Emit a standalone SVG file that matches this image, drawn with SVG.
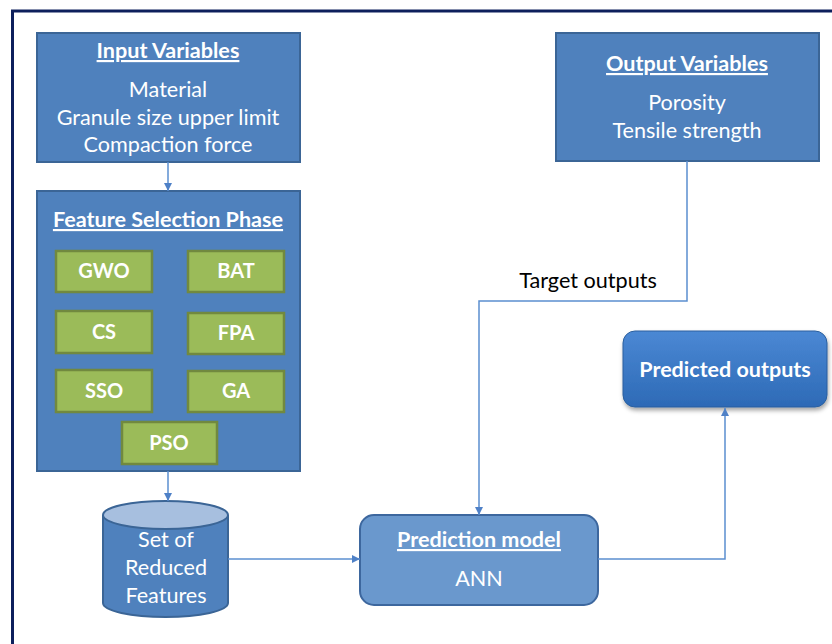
<svg xmlns="http://www.w3.org/2000/svg" width="832" height="644" viewBox="0 0 832 644">
<defs>
<marker id="arr" viewBox="0 0 10 10" refX="10" refY="5" markerWidth="8" markerHeight="8" markerUnits="userSpaceOnUse" orient="auto">
<path d="M0,0 L10,5 L0,10 z" fill="#4f81c7"/>
</marker>
<linearGradient id="pg" x1="0" y1="0" x2="0" y2="1">
<stop offset="0" stop-color="#4b88d4"/>
<stop offset="1" stop-color="#2d6ab6"/>
</linearGradient>
<filter id="sh" x="-10%" y="-10%" width="130%" height="140%">
<feDropShadow dx="1" dy="3" stdDeviation="2" flood-color="#000" flood-opacity="0.35"/>
</filter>
</defs>
<style>
.blue{fill:#4f81bd;stroke:#3b6596;stroke-width:2}
.green{fill:#9bbb59;stroke:#71893f;stroke-width:2.5}
.t{font-family:Lato,"Liberation Sans",sans-serif;fill:#fff;text-anchor:middle}
.h{font-weight:bold;font-size:21.6px;text-decoration:underline}
.b{font-size:21.6px}
.g{font-weight:bold;font-size:20px}
.p{font-weight:bold;font-size:21.5px}
.c{fill:none;stroke:#5b8fd0;stroke-width:1.5}
</style>
<rect width="832" height="644" fill="#fff"/>
<path d="M12.5,644 V11 H832" fill="none" stroke="#0d1f5c" stroke-width="3"/>
<g id="input">
<rect class="blue" x="37" y="33" width="263" height="129"/>
<text class="t h" x="168" y="58">Input Variables</text>
<text class="t b" x="168" y="97">Material</text>
<text class="t b" x="168" y="125">Granule size upper limit</text>
<text class="t b" x="168" y="152">Compaction force</text>
</g>
<g id="feature">
<rect class="blue" x="37" y="191" width="263" height="280"/>
<text class="t h" x="168" y="227">Feature Selection Phase</text>
<g id="gwo"><rect class="green" x="56" y="251" width="96" height="41"/><text class="t g" x="104" y="278">GWO</text></g>
<g id="bat"><rect class="green" x="188" y="251" width="96" height="41"/><text class="t g" x="236" y="278">BAT</text></g>
<g id="cs"><rect class="green" x="56" y="311" width="96" height="42"/><text class="t g" x="104" y="339">CS</text></g>
<g id="fpa"><rect class="green" x="188" y="313" width="96" height="41"/><text class="t g" x="236" y="340">FPA</text></g>
<g id="sso"><rect class="green" x="56" y="370" width="96" height="42"/><text class="t g" x="104" y="398">SSO</text></g>
<g id="ga"><rect class="green" x="188" y="371" width="96" height="41"/><text class="t g" x="236" y="398">GA</text></g>
<g id="pso"><rect class="green" x="122" y="422" width="95" height="42"/><text class="t g" x="169" y="450">PSO</text></g>
</g>
<g id="reduced">
<path d="M103,515 V603 A62.5,14 0 0 0 228,603 V515" fill="#4f81bd" stroke="#3b6596" stroke-width="2"/>
<ellipse cx="165.5" cy="515" rx="62.5" ry="14" fill="#a7bfdf" stroke="#3b6596" stroke-width="2"/>
<text class="t b" x="166" y="547">Set of</text>
<text class="t b" x="166" y="575">Reduced</text>
<text class="t b" x="166" y="603">Features</text>
</g>
<g id="prediction">
<rect x="360" y="515" width="238" height="90" rx="14" fill="#6a98cd" stroke="#3d679e" stroke-width="2"/>
<text class="t h" x="479" y="547">Prediction model</text>
<text class="t b" x="479" y="586">ANN</text>
</g>
<g id="output">
<rect class="blue" x="556" y="33" width="263" height="128"/>
<text class="t h" x="687" y="71">Output Variables</text>
<text class="t b" x="687" y="110">Porosity</text>
<text class="t b" x="687" y="138">Tensile strength</text>
</g>
<g id="predicted">
<rect x="623" y="331" width="204" height="76" rx="12" fill="url(#pg)" stroke="#2b5f9e" stroke-width="1" filter="url(#sh)"/>
<text class="t p" x="725" y="377">Predicted outputs</text>
</g>
<g id="connectors">
<line class="c" x1="168" y1="162" x2="168" y2="191" marker-end="url(#arr)"/>
<line class="c" x1="168" y1="471" x2="168" y2="501" marker-end="url(#arr)"/>
<line class="c" x1="228" y1="559" x2="360" y2="559" marker-end="url(#arr)"/>
<polyline class="c" points="687,161 687,301 479,301 479,515" marker-end="url(#arr)"/>
<polyline class="c" points="598,559 725,559 725,408" marker-end="url(#arr)"/>
<text x="588" y="288" font-family="Lato,'Liberation Sans',sans-serif" font-size="21.6" fill="#000" text-anchor="middle">Target outputs</text>
</g>
</svg>
